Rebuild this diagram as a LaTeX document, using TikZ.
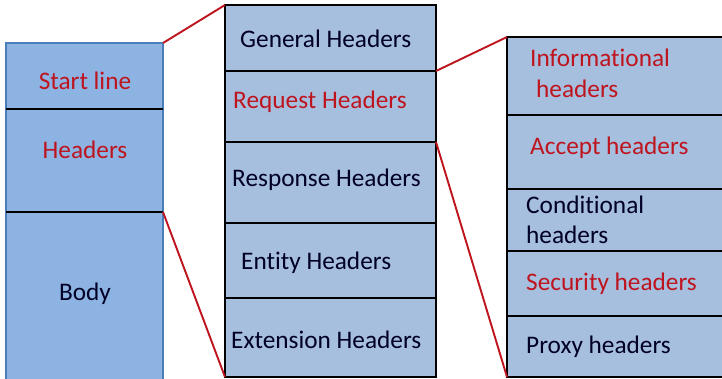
\documentclass[tikz,border=0pt]{standalone}
\usepackage{fontspec}
\setmainfont[Ligatures=NoCommon]{Carlito}
\definecolor{bodyfill}{RGB}{141,179,226}
\definecolor{cellfill}{RGB}{167,191,222}
\definecolor{bodyedge}{RGB}{74,126,187}
\definecolor{hilite}{RGB}{190,20,30}
\tikzset{
  msgcell/.style={rectangle, fill=bodyfill, draw=none, anchor=north west, inner sep=0pt, outer sep=0pt, minimum width=157bp},
  hdrcell/.style={rectangle, fill=cellfill, draw=black, line width=1.8bp, anchor=north west, inner sep=0pt, outer sep=0pt},
  divider/.style={draw=black, line width=1.9bp},
  zoomline/.style={draw=hilite, line width=1.9bp},
  lbl/.style={inner sep=0pt, anchor=base west, font=\fontsize{25.3bp}{30bp}\selectfont, text=black!85!blue},
  lblmid/.style={lbl, anchor=base},
  red/.style={text=hilite}
}
\begin{document}
\begin{tikzpicture}[x=1bp,y=-1bp]
\useasboundingbox (0,0) rectangle (722,378);
\clip (0,0) rectangle (722,378);
\fill[white] (0,0) rectangle (722,378);

% HTTP message: start line, headers, body
\node[msgcell, minimum height=66bp] (start) at (6,43) {};
\node[msgcell, minimum height=103bp] (hdrs) at (6,109) {};
\node[msgcell, minimum height=180bp] (body) at (6,212) {};
\draw[bodyedge, line width=1.6bp] (start.north west) rectangle (body.south east);
\draw[divider] (start.south west) -- (start.south east);
\draw[divider] (hdrs.south west) -- (hdrs.south east);
\node[lblmid, red] (tstart) at (85,89) {Start line};
\node[lblmid, red] (thdrs) at (85,158) {Headers};
\node[lblmid] (tbody) at (85,300) {Body};

% Header groups
\node[hdrcell, minimum width=211bp, minimum height=66bp] (general) at (225,5) {};
\node[hdrcell, minimum width=211bp, minimum height=71bp] (request) at (225,71) {};
\node[hdrcell, minimum width=211bp, minimum height=81bp] (response) at (225,142) {};
\node[hdrcell, minimum width=211bp, minimum height=75bp] (entity) at (225,223) {};
\node[hdrcell, minimum width=211bp, minimum height=79bp] (extension) at (225,298) {};
\node[lbl] (tgeneral) at (240,47) {General Headers};
\node[lbl, red] (trequest) at (233,108) {Request Headers};
\node[lbl] (tresponse) at (232,186) {Response Headers};
\node[lbl] (tentity) at (241,269) {Entity Headers};
\node[lbl] (textension) at (231,348) {Extension Headers};

% Request header kinds
\node[hdrcell, minimum width=230bp, minimum height=78bp] (info) at (507,37) {};
\node[hdrcell, minimum width=230bp, minimum height=74bp] (accept) at (507,115) {};
\node[hdrcell, minimum width=230bp, minimum height=62bp] (cond) at (507,189) {};
\node[hdrcell, minimum width=230bp, minimum height=65bp] (security) at (507,251) {};
\node[hdrcell, minimum width=230bp, minimum height=61bp] (proxy) at (507,316) {};
\node[lbl, red] (tinfo) at (530,66) {Informational};
\node[lbl, red] (tinfo2) at (536,97) {headers};
\node[lbl, red] (taccept) at (530,154) {Accept headers};
\node[lbl] (tcond) at (526,213) {Conditional};
\node[lbl] (tcond2) at (526,243) {headers};
\node[lbl, red] (tsecurity) at (526,290) {Security headers};
\node[lbl] (tproxy) at (526,353) {Proxy headers};

% Expansion lines
\draw[zoomline] (start.north east) -- (general.north west);
\draw[zoomline] (body.north east) -- (extension.south west);
\draw[zoomline] (request.north east) -- (info.north west);
\draw[zoomline] (request.south east) -- (proxy.south west);
\end{tikzpicture}
\end{document}
